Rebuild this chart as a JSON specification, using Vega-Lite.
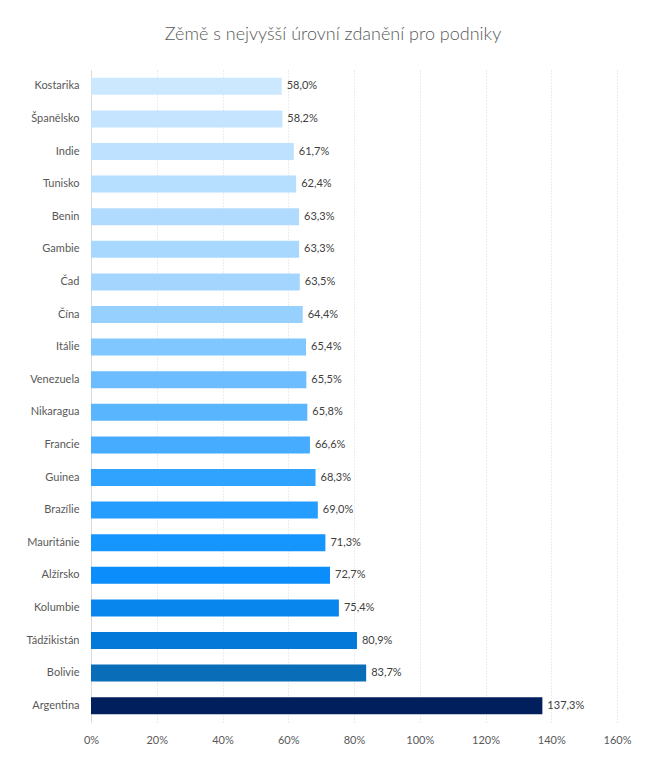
{
  "$schema": "https://vega.github.io/schema/vega-lite/v6.json",
  "width": 526,
  "height": 652,
  "autosize": {"type": "none"},
  "padding": {"left": 91, "top": 70, "right": 36, "bottom": 60},
  "background": "white",
  "title": {
    "text": "Zěmě s nejvyšší úrovní zdanění pro podniky",
    "font": "Lato",
    "fontSize": 18,
    "fontWeight": 300,
    "color": "#595959",
    "anchor": "middle",
    "dx": -21,
    "offset": 26
  },
  "data": {
    "values": [
      {"country": "Kostarika", "value": 58.0},
      {"country": "Španělsko", "value": 58.2},
      {"country": "Indie", "value": 61.7},
      {"country": "Tunisko", "value": 62.4},
      {"country": "Benin", "value": 63.3},
      {"country": "Gambie", "value": 63.3},
      {"country": "Čad", "value": 63.5},
      {"country": "Čína", "value": 64.4},
      {"country": "Itálie", "value": 65.4},
      {"country": "Venezuela", "value": 65.5},
      {"country": "Nikaragua", "value": 65.8},
      {"country": "Francie", "value": 66.6},
      {"country": "Guinea", "value": 68.3},
      {"country": "Brazílie", "value": 69.0},
      {"country": "Mauritánie", "value": 71.3},
      {"country": "Alžírsko", "value": 72.7},
      {"country": "Kolumbie", "value": 75.4},
      {"country": "Tádžikistán", "value": 80.9},
      {"country": "Bolivie", "value": 83.7},
      {"country": "Argentina", "value": 137.3}
    ]
  },
  "transform": [
    {"calculate": "replace(format(datum.value, '.1f'), '.', ',') + '%'", "as": "label"}
  ],
  "encoding": {
    "y": {
      "field": "country",
      "type": "nominal",
      "sort": null,
      "scale": {"paddingInner": 0.48, "paddingOuter": 0.24},
      "axis": {
        "title": null,
        "ticks": false,
        "labelPadding": 12,
        "labelFont": "Lato",
        "labelFontSize": 11,
        "labelColor": "#595959",
        "domainColor": "#d9d9d9",
        "grid": false
      }
    }
  },
  "layer": [
    {
      "mark": {"type": "bar"},
      "encoding": {
        "x": {
          "field": "value",
          "type": "quantitative",
          "scale": {"domain": [0, 160], "nice": false},
          "axis": {
            "title": null,
            "values": [0, 20, 40, 60, 80, 100, 120, 140, 160],
            "labelExpr": "datum.value + '%'",
            "labelFlush": false,
            "domain": false,
            "ticks": false,
            "labelPadding": 12,
            "labelFont": "Lato",
            "labelFontSize": 11,
            "labelColor": "#595959",
            "gridColor": "#d9d9d9",
            "gridDash": [1, 2],
            "gridWidth": 1
          }
        },
        "color": {
          "field": "country",
          "type": "nominal",
          "legend": null,
          "scale": {
            "domain": ["Kostarika", "Španělsko", "Indie", "Tunisko", "Benin", "Gambie", "Čad", "Čína", "Itálie", "Venezuela", "Nikaragua", "Francie", "Guinea", "Brazílie", "Mauritánie", "Alžírsko", "Kolumbie", "Tádžikistán", "Bolivie", "Argentina"],
            "range": ["#cce8ff", "#c4e4ff", "#bde1ff", "#b6deff", "#b0dbff", "#a9d8ff", "#a3d5ff", "#96d0ff", "#80c6ff", "#6cbdff", "#5ab5ff", "#45acff", "#30a3ff", "#249dff", "#1596ff", "#0b8dfb", "#0886ee", "#0479d9", "#0a6db8", "#001f5c"]
          }
        }
      }
    },
    {
      "mark": {"type": "text", "align": "left", "dx": 5, "font": "Lato", "fontSize": 11, "color": "#404040"},
      "encoding": {
        "x": {"field": "value", "type": "quantitative"},
        "text": {"field": "label"}
      }
    }
  ],
  "config": {
    "view": {"stroke": null}
  }
}
